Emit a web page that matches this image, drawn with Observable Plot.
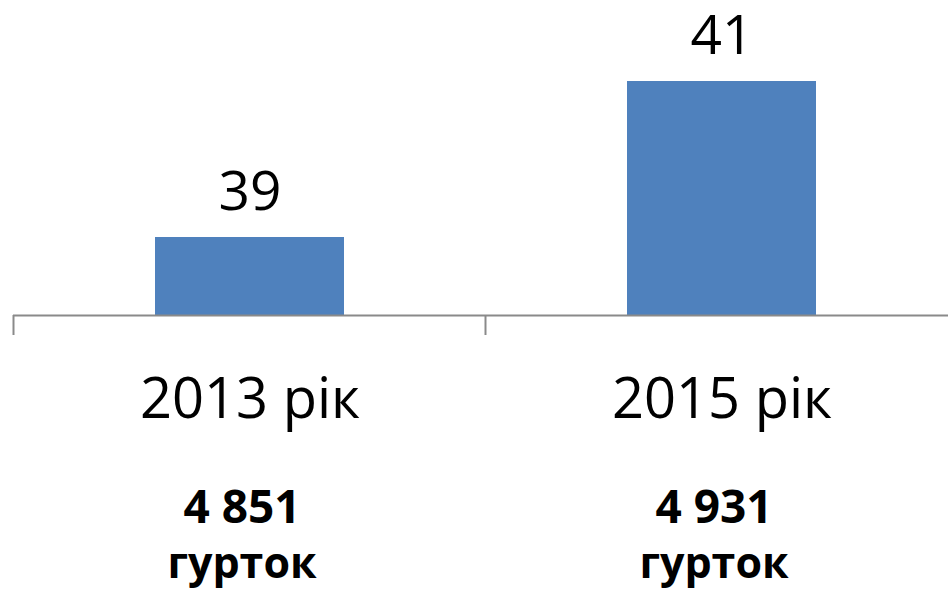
<!DOCTYPE html>
<html><head><meta charset="utf-8">
<script src="https://cdn.jsdelivr.net/npm/d3@7"></script>
<script src="https://cdn.jsdelivr.net/npm/@observablehq/plot@0.6"></script>
<style>body{margin:0;background:#fff;overflow:hidden}</style>
</head><body><div id="chart"></div>
<script>
const years = ["2013 рік", "2015 рік"];
const values = [39, 41];
const clubCounts = ["4 851", "4 931"];
const clubWord = ["гурток", "гурток"];
const yDomain = [38, 42];

const data = years.map((year, i) => ({year, value: values[i], count: clubCounts[i], word: clubWord[i]}));

function categoryTicks(index, scales, vals, dimensions) {
  const x = scales.x;
  const step = typeof x.step === "function" ? x.step() : x(years[1]) - x(years[0]);
  const bw = typeof x.bandwidth === "function" ? x.bandwidth() : 0;
  const y0 = dimensions.height - dimensions.marginBottom;
  const bounds = years.map(c => x(c) - (step - bw) / 2);
  bounds.push(bounds[bounds.length - 1] + step);
  const g = d3.create("svg:g");
  g.selectAll("line").data(bounds).join("line")
    .attr("x1", d => d).attr("x2", d => d)
    .attr("y1", y0).attr("y2", y0 + 20)
    .attr("stroke", "#8a8a8a").attr("stroke-width", 2);
  return g.node();
}

const chart = Plot.plot({
  width: 948,
  height: 591,
  marginTop: 3,
  marginBottom: 276,
  marginLeft: 13,
  marginRight: -9,
  style: {fontFamily: "'Open Sans', sans-serif", background: "#fff", color: "#000"},
  x: {domain: years, paddingInner: 0.6, paddingOuter: 0.3, axis: null},
  y: {domain: yDomain, axis: null},
  marks: [
    Plot.barY(data, {x: "year", y1: yDomain[0], y2: "value", fill: "#4F81BD"}),
    Plot.ruleY([yDomain[0]], {stroke: "#8a8a8a", strokeWidth: 2}),
    categoryTicks,
    Plot.text(data, {x: "year", y: "value", text: d => String(d.value), lineAnchor: "bottom", dy: -28, fontSize: 55, fill: "#000"}),
    Plot.text(data, {x: "year", text: "year", frameAnchor: "bottom", lineAnchor: "bottom", dy: 102, fontSize: 56, fill: "#000"}),
    Plot.text(data, {x: "year", text: "count", frameAnchor: "bottom", lineAnchor: "bottom", dy: 207, dx: -8, fontSize: 46, fontWeight: "bold", fill: "#000"}),
    Plot.text(data, {x: "year", text: "word", frameAnchor: "bottom", lineAnchor: "bottom", dy: 262, dx: -8, fontSize: 43, fontWeight: "bold", fill: "#000"})
  ]
});
document.getElementById("chart").appendChild(chart);
</script>
</body></html>
